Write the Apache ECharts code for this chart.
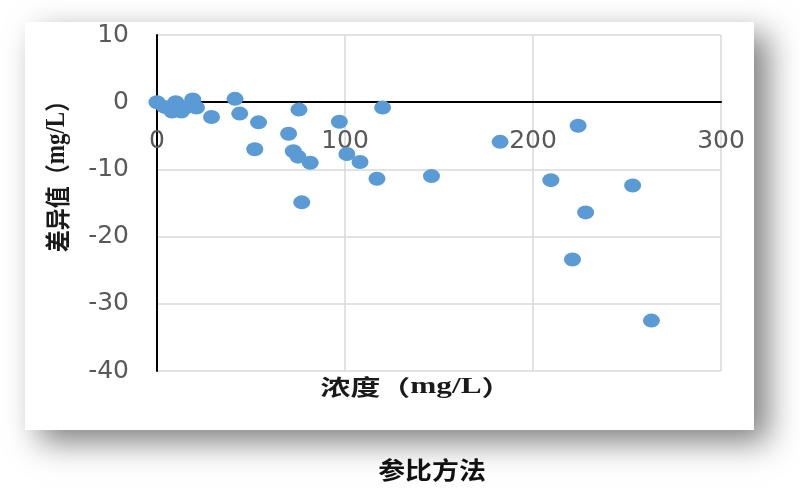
<!DOCTYPE html>
<html>
<head>
<meta charset="utf-8">
<script src="https://cdn.jsdelivr.net/npm/echarts@6/dist/echarts.min.js"></script>
<style>
html,body{margin:0;padding:0;background:#ffffff;}
#c{width:800px;height:503px;}
</style>
</head>
<body>
<div id="c"></div>
<script>
// Data
var concentration = [0, 4, 8, 10, 13, 16, 19, 21, 29, 41.5, 44, 54, 52, 70, 72.5, 75.5, 75, 81.5, 77, 97, 101, 108, 117, 120, 146, 182.5, 209.5, 224, 228, 221, 253, 263];
var difference    = [0, -0.7, -1.4, 0, -1.4, -0.7, 0.4, -0.8, -2.2, 0.5, -1.7, -3, -7, -4.7, -7.3, -1.1, -8.1, -9, -14.9, -2.9, -7.7, -8.9, -11.4, -0.8, -11, -5.9, -11.6, -3.5, -16.4, -23.4, -12.4, -32.5];
var xTicks = [0, 100, 200, 300];
var yTicks = [-40, -30, -20, -10, 0, 10];
var xTitleName = '浓度', yTitleName = '差异值', unit = 'mg/L';
var caption = '参比方法';

var points = concentration.map(function (x, i) { return [x, difference[i]]; });

var W = 800, H = 503, gTop = 35, gBottom = 132;
var plotH = H - gTop - gBottom;
var yMin = yTicks[0], yMax = yTicks[yTicks.length - 1];
// shift the x axis up so it sits on the zero line, as in the reference
var zeroOffset = -plotH * (0 - yMin) / (yMax - yMin);

var titleRich = {
  c: {fontSize: 22, fontWeight: 'bold', fill: '#1a1a1a', fontFamily: 'Noto Sans CJK SC'},
  u: {fontSize: 23, fontWeight: 'bold', fill: '#1a1a1a', fontFamily: 'Liberation Serif'}
};
function titleText(name) { return '{c|' + name + '（}{u|' + unit + '}{c|）}'; }

var chart = echarts.init(document.getElementById('c'), null, {renderer: 'canvas'});
chart.setOption({
  animation: false,
  backgroundColor: '#ffffff',
  grid: {left: 157, right: 79, top: gTop, bottom: gBottom, containLabel: false},
  graphic: [
    {type: 'rect', z: -10, shape: {x: 25, y: 22, width: 729, height: 408},
     style: {fill: '#ffffff', shadowBlur: 30, shadowOffsetX: 14, shadowOffsetY: 12, shadowColor: 'rgba(0,0,0,0.5)'}},
    {type: 'text', x: 416, y: 387, scaleX: 1.36, z: 10,
     style: {text: titleText(xTitleName), rich: titleRich, align: 'center', verticalAlign: 'middle'}},
    {type: 'text', x: 57, y: 171, rotation: Math.PI / 2, scaleY: 1.15, z: 10,
     style: {text: titleText(yTitleName), rich: titleRich, align: 'center', verticalAlign: 'middle'}},
    {type: 'text', x: 432, y: 470, scaleX: 1.12, z: 10,
     style: {text: caption, fontSize: 24, fontWeight: 'bold', fill: '#111111', fontFamily: 'Noto Sans CJK SC', align: 'center', verticalAlign: 'middle'}}
  ],
  xAxis: {
    type: 'value', min: xTicks[0], max: xTicks[xTicks.length - 1], interval: 100,
    position: 'bottom', offset: zeroOffset,
    axisLine: {show: true, onZero: false, lineStyle: {color: '#000000', width: 2}},
    axisTick: {show: false},
    axisLabel: {margin: 27, fontSize: 25, color: '#595959', fontFamily: 'DejaVu Sans'},
    splitLine: {show: true, lineStyle: {color: '#d9d9d9', width: 1.5}}
  },
  yAxis: {
    type: 'value', min: yMin, max: yMax, interval: 10,
    axisLine: {show: true, onZero: false, lineStyle: {color: '#000000', width: 2}},
    axisTick: {show: false},
    axisLabel: {margin: 28, fontSize: 25, color: '#595959', fontFamily: 'DejaVu Sans'},
    splitLine: {show: true, lineStyle: {color: '#d9d9d9', width: 1.5}}
  },
  series: [{
    type: 'scatter',
    data: points,
    symbol: 'circle',
    symbolSize: [17, 14],
    z: 10,
    itemStyle: {color: '#5b9bd5', opacity: 1}
  }]
});
</script>
</body>
</html>
